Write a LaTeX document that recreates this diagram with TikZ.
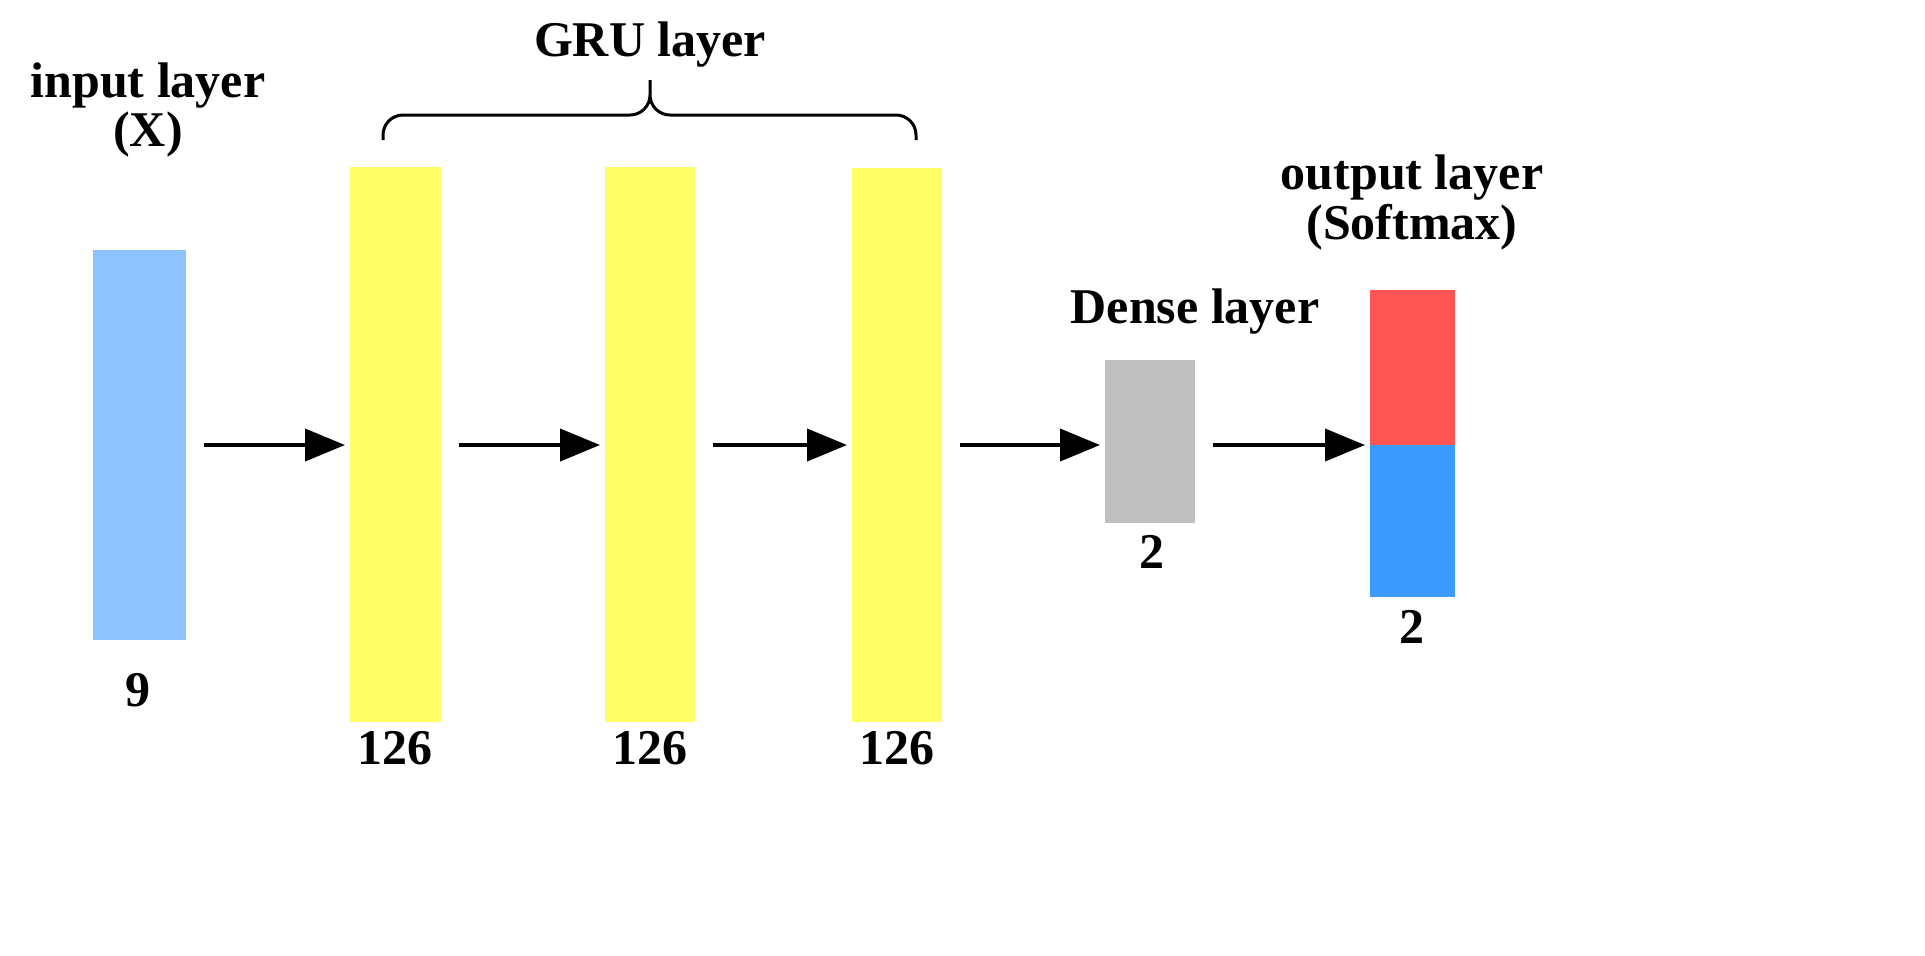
\documentclass[tikz,border=0pt]{standalone}
\usepackage{fontspec}
\setmainfont{Liberation Serif}
\usetikzlibrary{arrows.meta}
\begin{document}
\begin{tikzpicture}[x=0.5pt,y=-0.5pt,
  lbl/.style={font=\fontsize{25}{30}\selectfont\bfseries, inner sep=0pt, align=center},
  conn/.style={line width=2pt, -{Triangle[length=20pt,width=16pt]}, shorten <=9pt, shorten >=2.5pt}]
\useasboundingbox (0,0) rectangle (1925,955);
\fill[white] (0,0) rectangle (1925,955);
\fill[fill={rgb,255:red,142;green,195;blue,255}] (93,250) rectangle (186,640);
\coordinate (inR) at (186,445);
\fill[fill={rgb,255:red,255;green,255;blue,102}] (350,167) rectangle (441,722);
\fill[fill={rgb,255:red,255;green,255;blue,102}] (605,167) rectangle (695,722);
\fill[fill={rgb,255:red,255;green,255;blue,102}] (852,168) rectangle (942,722);
\fill[fill={rgb,255:red,191;green,191;blue,191}] (1105,360) rectangle (1195,523);
\fill[fill={rgb,255:red,255;green,85;blue,85}] (1370,290) rectangle (1455,445);
\fill[fill={rgb,255:red,61;green,155;blue,255}] (1370,445) rectangle (1455,597);
\coordinate (g1L) at (350,445); \coordinate (g1R) at (441,445);
\coordinate (g2L) at (605,445); \coordinate (g2R) at (695,445);
\coordinate (g3L) at (852,445); \coordinate (g3R) at (942,445);
\coordinate (dL) at (1105,445); \coordinate (dR) at (1195,445);
\coordinate (oL) at (1370,445);
\draw[conn] (inR) -- (g1L);
\draw[conn] (g1R) -- (g2L);
\draw[conn] (g2R) -- (g3L);
\draw[conn] (g3R) -- (dL);
\draw[conn] (dR) -- (oL);
\draw[line width=1.5pt, rounded corners=10pt] (383,140) -- (383,115) -- (650,115) -- (650,80) (650,80) -- (650,115) -- (916,115) -- (916,140);
\node[lbl] (t1) at (148,86) {input layer};
\node[lbl] (t2) at (148,134) {(X)};
\node[lbl] (t3) at (650,45) {GRU layer};
\node[lbl] (t4) at (1195,312) {Dense layer};
\node[lbl] (t5) at (1412,178) {output layer};
\node[lbl] (t6) at (1412,227) {(Softmax)};
\node[lbl] (n1) at (138,690) {9};
\node[lbl] (n2) at (395,748) {126};
\node[lbl] (n3) at (650,748) {126};
\node[lbl] (n4) at (897,748) {126};
\node[lbl] (n5) at (1152,552) {2};
\node[lbl] (n6) at (1412,627) {2};
\end{tikzpicture}
\end{document}
